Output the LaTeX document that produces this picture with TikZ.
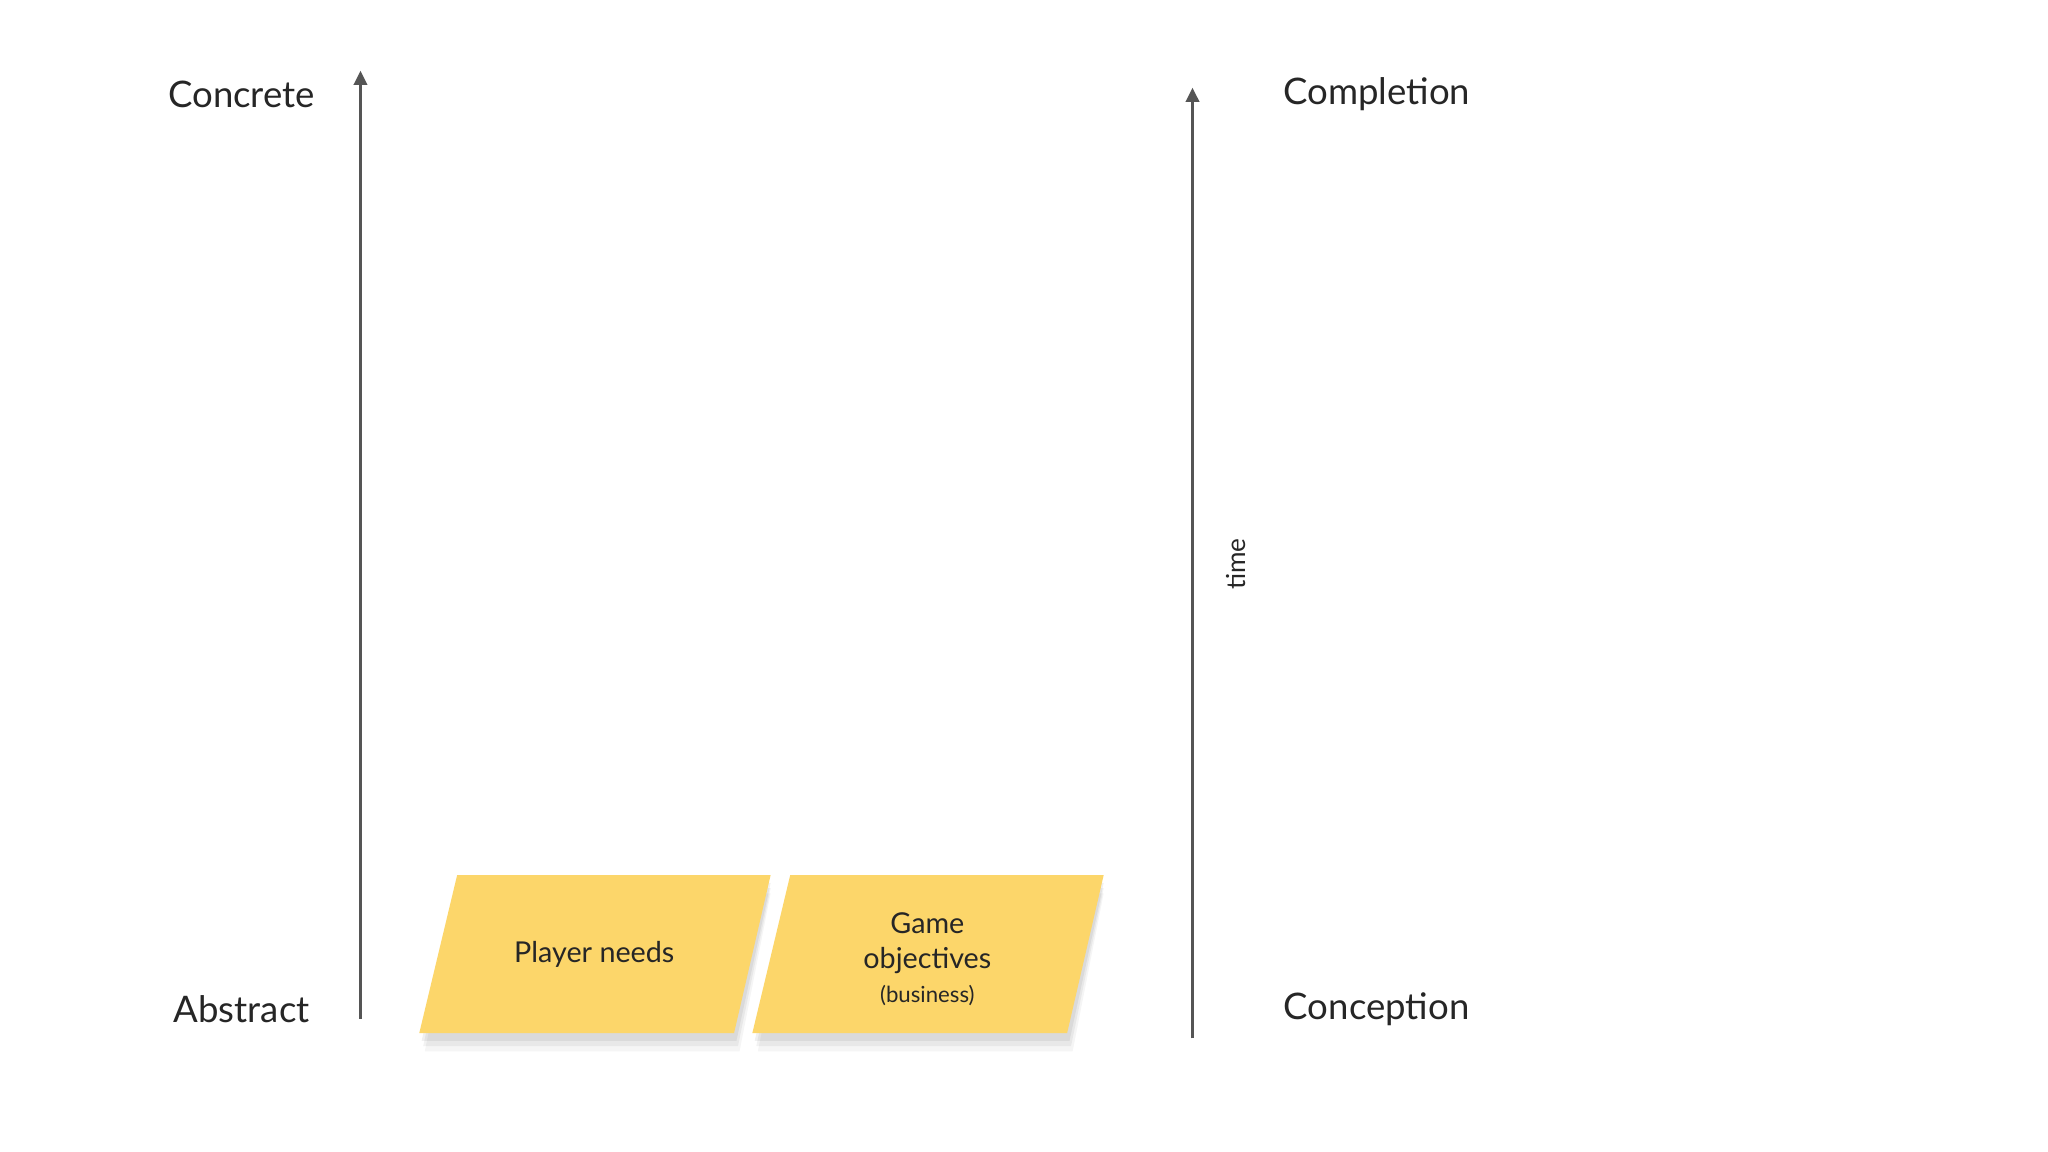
\documentclass[tikz,border=0pt]{standalone}
\usepackage{fontspec}
\setmainfont{Lato}
\usetikzlibrary{arrows.meta}
\definecolor{sticky}{HTML}{FCD66A}
\definecolor{axis}{HTML}{555555}
\tikzset{
  axisarrow/.style={draw=axis, line width=2.6pt, -{Triangle[length=11pt,width=10pt]}},
  biglabel/.style={font=\fontsize{28}{32}\selectfont, text=black!85},
  stickytext/.style={font=\fontsize{22}{27}\selectfont, align=center, text=black!85},
}
\begin{document}
\begin{tikzpicture}[x=1pt,y=-1pt]
\useasboundingbox[fill=white] (0,0) rectangle (1568,882);
% axes
\coordinate (a1) at (276,780); \coordinate (a2) at (276,54);
\coordinate (b1) at (913,795); \coordinate (b2) at (913,67);
\draw[axisarrow] (a1) -- (a2);
\draw[axisarrow] (b1) -- (b2);
\node[biglabel] (concrete) at (185,72) {Concrete};
\node[biglabel] (abstract) at (185,773) {Abstract};
\node[biglabel] (completion) at (1054,72) {Completion};
\node[biglabel] (conception) at (1054,773) {Conception};
\node[font=\fontsize{20}{24}\selectfont, rotate=90, text=black!85] (time) at (946,432) {time};
% shadows
\foreach \o/\op in {14/0.04,10/0.05,6/0.06}{
  \fill[black,opacity=\op] (350,670+\o) -- (590,670+\o) -- (562+\o*0.3,791+\o) -- (321+\o*0.3,791+\o) -- cycle;
  \fill[black,opacity=\op] (605,670+\o) -- (845,670+\o) -- (817+\o*0.3,791+\o) -- (576+\o*0.3,791+\o) -- cycle;
}
% stickies
\fill[sticky] (350,670) -- (590,670) -- (562,791) -- (321,791) -- cycle;
\fill[sticky] (605,670) -- (845,670) -- (817,791) -- (576,791) -- cycle;
\node[stickytext] (player) at (455,731) {Player needs};
\node[stickytext] (game) at (710,722) {Game\\objectives};
\node[font=\fontsize{17}{20}\selectfont, text=black!85] (business) at (710,762) {(business)};
\end{tikzpicture}
\end{document}
